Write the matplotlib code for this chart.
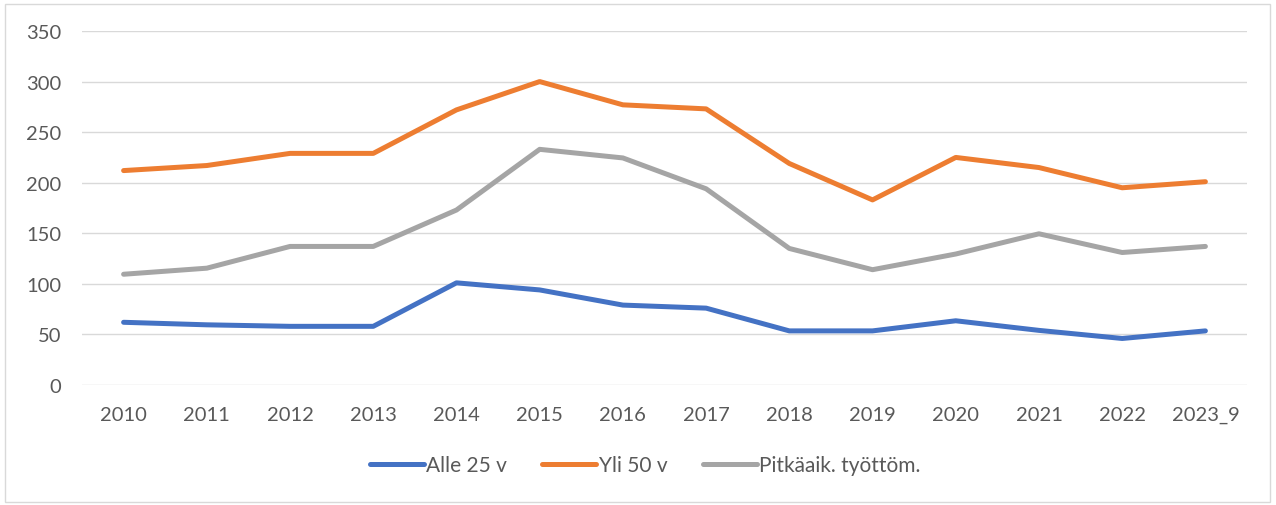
import matplotlib
matplotlib.use("Agg")
import matplotlib.pyplot as plt
from matplotlib.patches import Rectangle

categories = ["2010", "2011", "2012", "2013", "2014", "2015", "2016",
              "2017", "2018", "2019", "2020", "2021", "2022", "2023_9"]
alle_25 = [62, 59.5, 58, 58, 101, 94, 79, 76, 53.5, 53.5, 63.5, 54, 46, 53.5]
yli_50 = [212, 217, 229, 229, 272, 300, 277, 273, 219, 183, 225, 215, 195, 201]
pitkaaik = [109.5, 115.5, 137, 137, 173, 233, 224.5, 194, 135, 114, 129.5, 149.5, 131, 137]
series_names = ["Alle 25 v", "Yli 50 v", "Pitkäaik. työttöm."]
colors = ["#4472C4", "#ED7D31", "#A5A5A5"]
yticks = [0, 50, 100, 150, 200, 250, 300, 350]

plt.rcParams["font.family"] = ["Lato", "DejaVu Sans"]

W, H = 1276, 506
fig = plt.figure(figsize=(W / 100, H / 100), dpi=100)
ax = fig.add_axes([82 / W, 1 - 386 / H, (1247 - 82) / W, (386 - 32) / H])

x = range(len(categories))
for vals, name, c in zip([alle_25, yli_50, pitkaaik], series_names, colors):
    ax.plot(x, vals, color=c, lw=3.6, label=name, solid_capstyle="round",
            solid_joinstyle="round")

ax.set_xlim(-0.5, len(categories) - 0.5)
ax.set_ylim(0, 350)
ax.set_yticks(yticks)
ax.set_xticks(list(x))
ax.set_xticklabels(categories)
ax.grid(axis="y", color="#D9D9D9", lw=1)
ax.set_axisbelow(True)
for s in ax.spines.values():
    s.set_visible(False)
ax.tick_params(length=0, labelsize=14.5, labelcolor="#595959")
ax.tick_params(axis="y", pad=15)
ax.tick_params(axis="x", pad=15)

fig.legend(loc="center", bbox_to_anchor=(645 / W, 1 - 466 / H), ncol=3,
           frameon=False, fontsize=15, labelcolor="#595959",
           handlelength=2.6, handletextpad=0.1, columnspacing=1.7)

fig.patches.append(Rectangle((5 / W, 3 / H), (1270 - 5) / W, (501 - 3) / H,
                             transform=fig.transFigure, fill=False,
                             edgecolor="#D9D9D9", lw=1))

fig.savefig("out.png", dpi=100)
